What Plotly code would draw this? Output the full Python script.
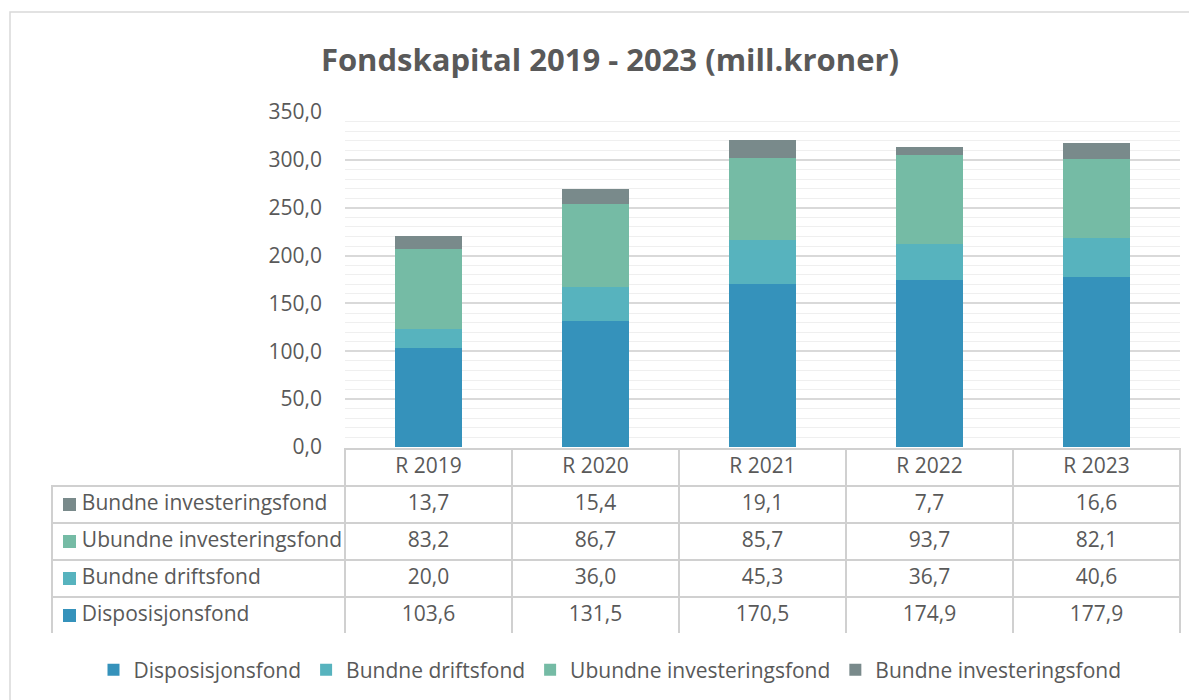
import plotly.graph_objects as go

years = ["R 2019", "R 2020", "R 2021", "R 2022", "R 2023"]
disposisjonsfond = [103.6, 131.5, 170.5, 174.9, 177.9]
bundne_driftsfond = [20.0, 36.0, 45.3, 36.7, 40.6]
ubundne_inv = [83.2, 86.7, 85.7, 93.7, 82.1]
bundne_inv = [13.7, 15.4, 19.1, 7.7, 16.6]

series = [
    ("Disposisjonsfond", disposisjonsfond, "#3592BB"),
    ("Bundne driftsfond", bundne_driftsfond, "#57B3BE"),
    ("Ubundne investeringsfond", ubundne_inv, "#75BBA5"),
    ("Bundne investeringsfond", bundne_inv, "#798A8B"),
]

FONT = "Open Sans"
FS = 21
W, H = 1197, 700
OX, OY = 8, 8   # page body margin shifts the whole figure


def px(x):
    return (x - OX) / W


def py(y):
    return 1 - (y - OY) / H


fig = go.Figure()
for name, vals, col in series:
    fig.add_trace(go.Bar(x=years, y=vals, name=name, marker_color=col,
                         marker_line_width=0, width=0.4))

# data table under the chart (rows in reverse series order, like Excel)
rows = series[::-1]
NB = "\u00a0"
label_col = [NB * 4 + n.replace(" ", NB) for n, v, c in rows]
cols = [label_col] + [[("%.1f" % r[1][i]).replace(".", ",") for r in rows]
                      for i in range(len(years))]
tbl_top, row_h = 449, 37
fig.add_trace(go.Table(
    domain=dict(x=[px(52), px(1180)], y=[py(tbl_top + 5 * row_h), py(tbl_top)]),
    columnwidth=[293] + [167] * 5,
    header=dict(values=[""] + years, height=row_h,
                line=dict(color=["rgba(0,0,0,0)"] + ["#d0d0d0"] * 5, width=1.5),
                fill_color=["rgba(0,0,0,0)"] + ["white"] * 5, align="center",
                font=dict(family=FONT, size=FS, color="#595959")),
    cells=dict(values=cols, height=row_h,
               line=dict(color="#d0d0d0", width=1.5),
               fill_color="white", align=["left"] + ["center"] * 5,
               font=dict(family=FONT, size=FS, color="#595959")),
))

# colour keys in the table's label column
shapes = []
for i, (n, v, c) in enumerate(rows):
    yc = tbl_top + row_h * (i + 1.5)
    shapes.append(dict(type="rect", xref="paper", yref="paper",
                       x0=px(63), x1=px(76), y0=py(yc + 6.5), y1=py(yc - 6.5),
                       fillcolor=c, line_width=0))
shapes.append(dict(type="rect", xref="paper", yref="paper",
                   x0=px(10), x1=px(1195), y0=-0.05, y1=py(12),
                   line=dict(color="#d9d9d9", width=1.5), layer="below"))

fig.update_layout(
    width=W, height=H,
    barmode="stack",
    paper_bgcolor="white", plot_bgcolor="white",
    margin=dict(l=0, r=0, t=0, b=0, autoexpand=False),
    font=dict(family=FONT, size=FS, color="#595959"),
    title=dict(text="<b>Fondskapital 2019 - 2023 (mill.kroner)</b>",
               x=px(610), xanchor="center", y=py(60), yanchor="middle",
               font=dict(size=31, color="#595959")),
    separators=",.",
    xaxis=dict(domain=[px(345), px(1180)], showticklabels=False,
               showgrid=False, zeroline=False),
    yaxis=dict(domain=[py(447), py(112)], range=[0, 350], dtick=50,
               tickformat=".1f", showgrid=True, gridcolor="#d9d9d9",
               gridwidth=1.5, zeroline=False, ticks="", ticklabelstandoff=22,
               minor=dict(dtick=10, showgrid=True, gridcolor="#efefef",
                          gridwidth=1)),
    legend=dict(orientation="h", x=px(610), xanchor="center", y=py(670),
                yanchor="middle", font=dict(size=FS, color="#595959"),
                traceorder="normal", itemwidth=30),
    shapes=shapes,
)

fig.write_html("out.html")
